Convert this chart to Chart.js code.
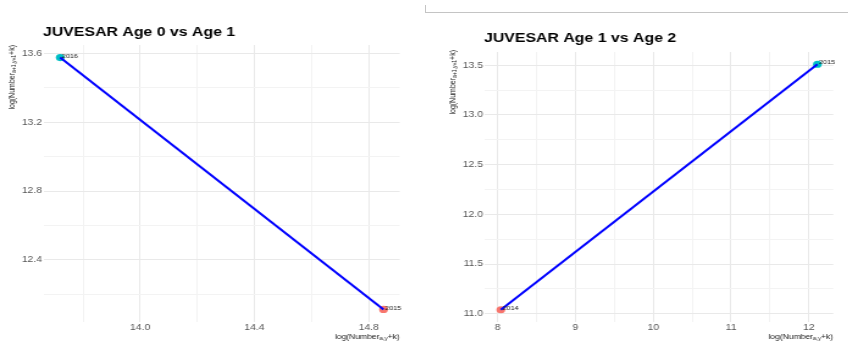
<!DOCTYPE html>
<html>
<head>
<meta charset="utf-8">
<title>JUVESAR</title>
<script src="https://cdn.jsdelivr.net/npm/chart.js@4/dist/chart.umd.min.js"></script>
<style>
  body { margin: 0; background: #fff; width: 848px; height: 343px; overflow: hidden; position: relative; }
  .panel { position: absolute; top: 0; transform-origin: 0 0; transform: scaleX(1.22); }
  #leftPanel { left: 0; }
  #rightPanel { left: 420px; }
  .frame { position: absolute; left: 425px; top: 5px; width: 423px; height: 7px;
           border-left: 1px solid #c4c4c4; border-bottom: 1px solid #c4c4c4; }
</style>
</head>
<body>
<div class="frame"></div>
<div class="panel" id="leftPanel"><canvas id="leftChart" width="344" height="343"></canvas></div>
<div class="panel" id="rightPanel"><canvas id="rightChart" width="351" height="343"></canvas></div>
<script>
// Age 0 vs Age 1
var leftYears = ['2016', '2015'];
var leftAge0 = [13.72, 14.852];
var leftAge1 = [13.575, 12.113];
var leftXTicks = [14.0, 14.4, 14.8];
var leftYTicks = [12.4, 12.8, 13.2, 13.6];

// Age 1 vs Age 2
var rightYears = ['2014', '2015'];
var rightAge1 = [8.04, 12.11];
var rightAge2 = [11.04, 13.51];
var rightXTicks = [8, 9, 10, 11, 12];
var rightYTicks = [11.0, 11.5, 12.0, 12.5, 13.0, 13.5];

var S = 1.22; // horizontal stretch of the panels (see .panel css)
var FONT = '"Liberation Sans", Arial, Helvetica, sans-serif';

function yearColor(years, i) {
    // earlier year red, later year teal
    var sorted = years.slice().sort();
    return years[i] === sorted[0] ? '#F8766D' : '#00BFC4';
}

function padRange(vals) {
    var lo = Math.min.apply(null, vals), hi = Math.max.apply(null, vals);
    var e = (hi - lo) * 0.05;
    return [lo - e, hi + e];
}

// major ticks plus the halfway lines between them, inside the range
function gridValues(majors, range) {
    var step = (majors[1] - majors[0]) / 2;
    var out = [];
    var v = majors[0];
    while (v - step >= range[0]) v -= step;
    for (; v <= range[1] + 1e-9; v += step) out.push(Math.round(v * 1000) / 1000);
    return out;
}

function isMajor(majors, v) {
    return majors.some(function (m) { return Math.abs(m - v) < 1e-6; });
}

function drawSubText(ctx, parts, x, y) {
    ctx.font = '7px ' + FONT;
    ctx.fillText(parts[0], x, y);
    x += ctx.measureText(parts[0]).width;
    ctx.font = '5px ' + FONT;
    ctx.fillText(parts[1], x, y + 1.8);
    x += ctx.measureText(parts[1]).width;
    ctx.font = '7px ' + FONT;
    ctx.fillText(parts[2], x, y);
}

function subTextWidth(ctx, parts) {
    ctx.font = '7px ' + FONT;
    var w = ctx.measureText(parts[0]).width + ctx.measureText(parts[2]).width;
    ctx.font = '5px ' + FONT;
    return w + ctx.measureText(parts[1]).width;
}

var panelText = {
    id: 'panelText',
    afterDraw: function (chart) {
        var o = chart.options.plugins.panelText;
        var ctx = chart.ctx, area = chart.chartArea;
        var xs = chart.scales.x, ys = chart.scales.y;
        ctx.save();

        ctx.fillStyle = '#000';
        ctx.textAlign = 'left';
        ctx.textBaseline = 'alphabetic';
        ctx.font = 'bold 13px ' + FONT;
        ctx.fillText(o.title, area.left - 1 / S, o.titleBaseline);

        // year next to each point
        ctx.fillStyle = '#222';
        ctx.font = '6px ' + FONT;
        ctx.textBaseline = 'middle';
        for (var i = 0; i < o.years.length; i++) {
            ctx.fillText(o.years[i], xs.getPixelForValue(o.xs[i]) + 1.5 / S, ys.getPixelForValue(o.ys[i]) - 1.5);
        }

        // axis titles
        ctx.fillStyle = '#1a1a1a';
        ctx.textBaseline = 'alphabetic';
        var xp = ['log(Number', 'a,y', '+k)'];
        drawSubText(ctx, xp, area.right - subTextWidth(ctx, xp), 338.5);

        var yp = ['log(Number', 'a+1,y+1', '+k)'];
        var w = subTextWidth(ctx, yp);
        ctx.translate(o.yTitleX / S, o.yTitleTop + w);
        ctx.rotate(-Math.PI / 2);
        ctx.textBaseline = 'middle';
        drawSubText(ctx, yp, 0, 0);

        ctx.restore();
    }
};

function makeChart(id, p) {
    var xr = padRange(p.xs), yr = padRange(p.ys);
    var xGrid = gridValues(p.xTicks, xr), yGrid = gridValues(p.yTicks, yr);
    var pts = p.xs.map(function (x, i) { return { x: x, y: p.ys[i] }; });
    var tickFont = { family: FONT, size: 8.5 };

    function gridColor(majors) {
        return function (c) { return c.tick && isMajor(majors, c.tick.value) ? '#e9e9e9' : '#f3f3f3'; };
    }

    return new Chart(document.getElementById(id), {
        data: {
            datasets: [{
                type: 'line',
                data: pts,
                borderColor: '#0000FF',
                borderWidth: 2,
                pointRadius: 0,
                fill: false
            }, {
                type: 'scatter',
                data: pts,
                pointRadius: 3.6,
                borderWidth: 0,
                backgroundColor: p.years.map(function (y, i) { return yearColor(p.years, i); })
            }]
        },
        options: {
            responsive: false,
            animation: false,
            layout: { padding: { left: 0, right: p.padRight / S, top: p.top, bottom: 0 } },
            plugins: {
                legend: { display: false },
                tooltip: { enabled: false },
                panelText: {
                    title: p.title, titleBaseline: p.titleBaseline,
                    years: p.years, xs: p.xs, ys: p.ys,
                    yTitleX: p.yTitleX, yTitleTop: p.yTitleTop
                }
            },
            scales: {
                x: {
                    type: 'linear',
                    min: xr[0], max: xr[1],
                    afterBuildTicks: function (s) { s.ticks = xGrid.map(function (v) { return { value: v }; }); },
                    afterFit: function (s) { s.height = 21; },
                    ticks: {
                        autoSkip: false, maxRotation: 0, padding: 1,
                        font: tickFont, color: '#555',
                        callback: function (v) { return isMajor(p.xTicks, v) ? v.toFixed(p.xDec) : ''; }
                    },
                    grid: { color: gridColor(p.xTicks), drawTicks: false, lineWidth: 1 },
                    border: { display: false }
                },
                y: {
                    type: 'linear',
                    min: yr[0], max: yr[1],
                    afterBuildTicks: function (s) { s.ticks = yGrid.map(function (v) { return { value: v }; }); },
                    afterFit: function (s) { s.width = p.axisWidth / S; },
                    ticks: {
                        autoSkip: false, padding: 2 / S,
                        font: tickFont, color: '#555',
                        callback: function (v) { return isMajor(p.yTicks, v) ? v.toFixed(1) : ''; }
                    },
                    grid: { color: gridColor(p.yTicks), drawTicks: false, lineWidth: 1 },
                    border: { display: false }
                }
            }
        },
        plugins: [panelText]
    });
}

makeChart('leftChart', {
    title: 'JUVESAR Age 0 vs Age 1', titleBaseline: 35.5,
    years: leftYears, xs: leftAge0, ys: leftAge1,
    xTicks: leftXTicks, yTicks: leftYTicks, xDec: 1,
    axisWidth: 44, padRight: 20, top: 45,
    yTitleX: 12, yTitleTop: 45
});

makeChart('rightChart', {
    title: 'JUVESAR Age 1 vs Age 2', titleBaseline: 42,
    years: rightYears, xs: rightAge1, ys: rightAge2,
    xTicks: rightXTicks, yTicks: rightYTicks, xDec: 0,
    axisWidth: 65, padRight: 15, top: 52,
    yTitleX: 33, yTitleTop: 50
});
</script>
</body>
</html>
